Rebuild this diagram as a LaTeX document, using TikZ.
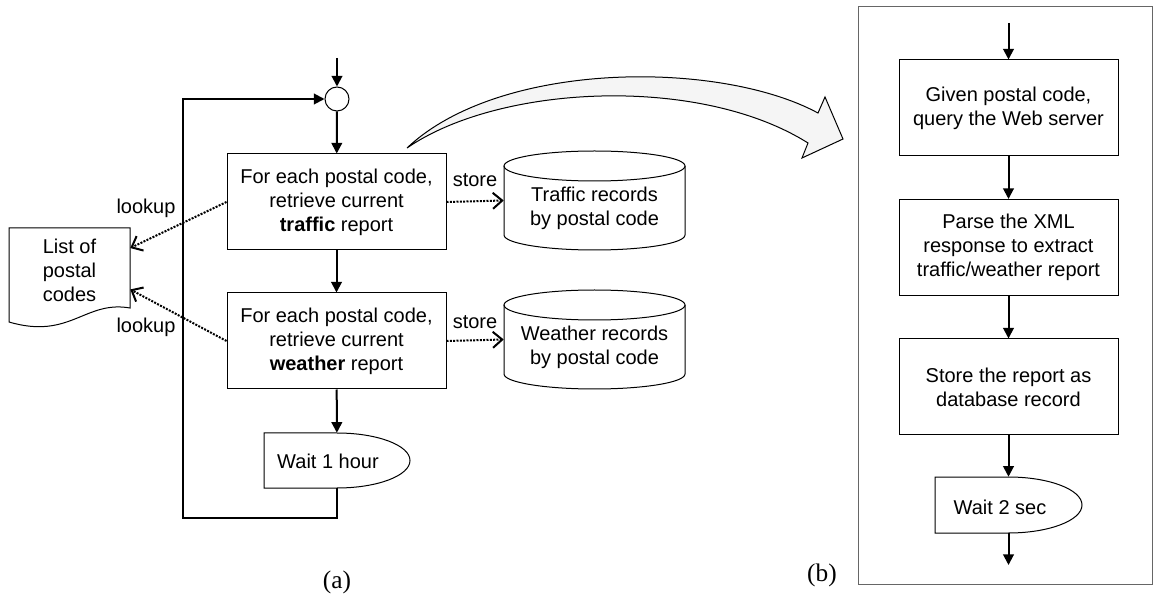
\documentclass[tikz,border=0pt]{standalone}
\usepackage{fontspec}
\setmainfont{Liberation Sans}
\newfontfamily\capfont{Liberation Serif}
\usetikzlibrary{arrows.meta,calc}

\begin{document}
\begin{tikzpicture}[x=0.75pt,y=0.75pt,yscale=-1,xscale=1,
  procbox/.style={draw,line width=0.75pt,minimum width=164.25pt,minimum height=72pt,inner sep=0pt,align=center,font=\fontsize{15}{18}\selectfont},
  plaintext/.style={inner sep=0pt,align=center,font=\fontsize{15}{18}\selectfont},
  flowline/.style={line width=1.5pt,-{Triangle[length=8pt,width=8pt]}},
  dotline/.style={line width=1.5pt,densely dotted,-{Straight Barb[length=7pt,width=12pt,line width=1.5pt]}},
  outline/.style={line width=0.75pt}]
\useasboundingbox (0,0) rectangle (1153,598);

%Shape: Circle
\node[circle,draw,line width=0.75pt,minimum size=18pt,inner sep=0pt] (merge) at (337,99) {};
\coordinate (start) at (337,58);

%Shape: Rectangle
\node[procbox] (traffic) at (336.5,202) {For each postal code,\\retrieve current\\\textbf{traffic} report};
%Shape: Rectangle
\node[procbox] (weather) at (336.5,341) {For each postal code,\\retrieve current\\\textbf{weather} report};

%Flowchart: Delay
\node[minimum width=109.5pt,minimum height=41.25pt,inner sep=0pt] (wait1) at (337,460.5) {};
\draw[outline] (264,433) -- (337,433) .. controls (377.3,433) and (410,445.3) .. (410,460.5) .. controls (410,475.7) and (377.3,488) .. (337,488) -- (264,488) -- cycle ;
% Text Node
\node[plaintext] (wait1txt) at (328,461) {Wait 1 hour};

%Straight Lines
\draw[flowline] (start) -- (merge);
\draw[flowline] (merge) -- (traffic);
\draw[flowline] (traffic) -- (weather);
\draw[flowline] (weather) -- (wait1);
\coordinate (back) at (183,518);
\draw[flowline] (wait1.south) |- (back) |- (merge.west);

%Flowchart: Document
\node[plaintext,minimum width=90.75pt,minimum height=63pt] (codes) at (69.5,270) {List of\\postal\\codes};
\draw[outline] (9,228) -- (130,228) -- (130,308) .. controls (85,300) and (70,340) .. (9,322) -- cycle ;

% Text Node
\node[plaintext] (lk1) at (146,208) {lookup};
\node[plaintext] (lk2) at (146,327) {lookup};
\draw[dotline] (traffic.west) -- ($(codes.north east)!0.24!(codes.south east)$);
\draw[dotline] (weather.west) -- ($(codes.north east)!0.73!(codes.south east)$);

%Shape: Can
\node[minimum width=135.75pt,minimum height=74.25pt,inner sep=0pt] (trdb) at (594.5,200.5) {};
\draw[outline] (594.5,166) ellipse (90.5 and 15) ;
\draw[outline] (504,166) -- (504,235) .. controls (504,243.3) and (544.5,250) .. (594.5,250) .. controls (644.5,250) and (685,243.3) .. (685,235) -- (685,166) ;
\node[plaintext] (trdbtxt) at (594.5,208) {Traffic records\\by postal code};

%Shape: Can
\node[minimum width=135.75pt,minimum height=74.25pt,inner sep=0pt] (wedb) at (594.5,339.5) {};
\draw[outline] (594.5,305) ellipse (90.5 and 15) ;
\draw[outline] (504,305) -- (504,374) .. controls (504,382.3) and (544.5,389) .. (594.5,389) .. controls (644.5,389) and (685,382.3) .. (685,374) -- (685,305) ;
\node[plaintext] (wedbtxt) at (594.5,347) {Weather records\\by postal code};

% Text Node
\node[plaintext] (st1) at (475,180) {store};
\node[plaintext] (st2) at (475,322) {store};
\draw[dotline] (traffic.east) -- (trdb.west);
\draw[dotline] (weather.east) -- (wedb.west);

%Curved Arrow
\draw[outline,fill=black!4] (407,148) .. controls (500,60) and (720,60) .. (818,113) -- (825,97) -- (843,139) -- (802,158) -- (808,143) .. controls (700,75) and (500,84) .. (407,148) -- cycle ;

%Shape: Rectangle
\draw[line width=0.75pt,black!60] (858,7) rectangle (1152,584) ;

\coordinate (rin) at (1008.5,23);
\node[procbox] (query) at (1008.5,108) {Given postal code,\\query the Web server};
\node[procbox] (parse) at (1008.5,247.5) {Parse the XML\\response to extract\\traffic/weather report};
\node[procbox] (save) at (1008.5,387) {Store the report as\\database record};

%Flowchart: Delay
\node[minimum width=110.25pt,minimum height=42pt,inner sep=0pt] (wait2) at (1008.5,505) {};
\draw[outline] (935,477) -- (1008.5,477) .. controls (1048.8,477) and (1082,489.5) .. (1082,505) .. controls (1082,520.5) and (1048.8,533) .. (1008.5,533) -- (935,533) -- cycle ;
% Text Node
\node[plaintext] (wait2txt) at (1000,507) {Wait 2 sec};
\coordinate (rout) at (1008.5,565);

%Straight Lines
\draw[flowline] (rin) -- (query);
\draw[flowline] (query) -- (parse);
\draw[flowline] (parse) -- (save);
\draw[flowline] (save) -- (wait2);
\draw[flowline] (wait2.south) -- (rout);

% Text Node
\node[inner sep=0pt,font=\capfont\fontsize{19}{22}\selectfont] (capa) at (337,582) {(a)};
\node[inner sep=0pt,font=\capfont\fontsize{19}{22}\selectfont] (capb) at (822,575) {(b)};

\end{tikzpicture}
\end{document}
